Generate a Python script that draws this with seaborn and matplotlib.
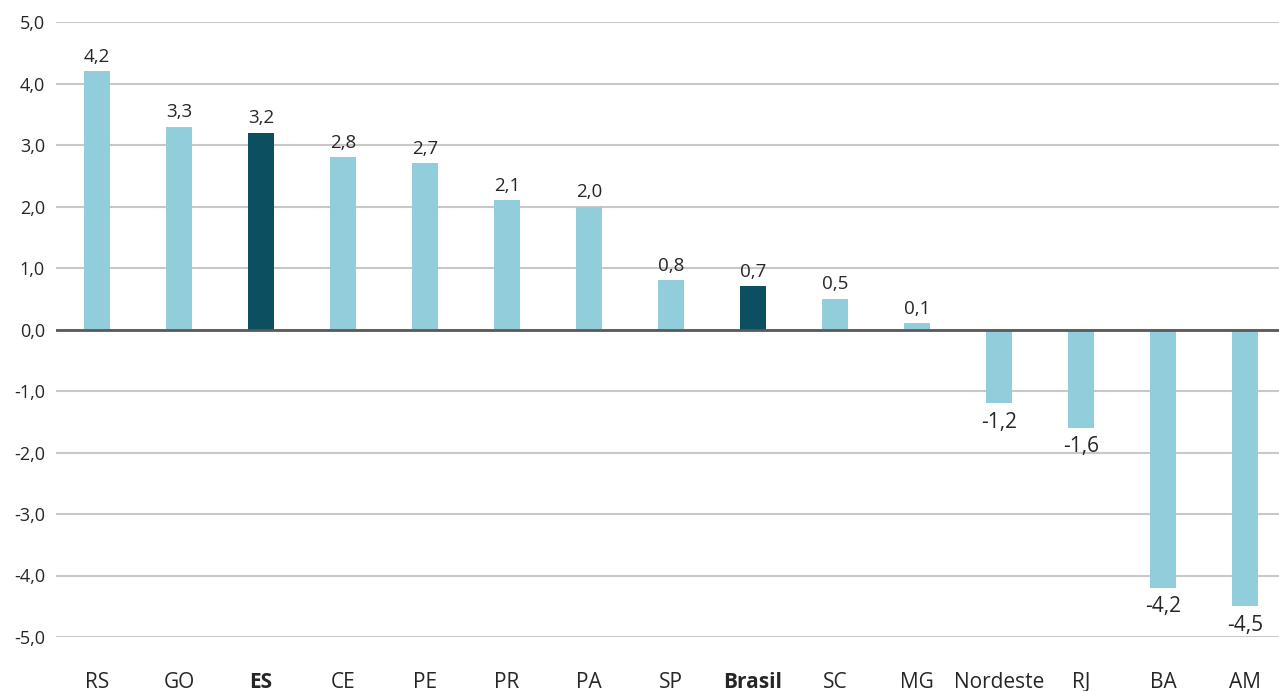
import matplotlib
matplotlib.use("Agg")
import matplotlib.pyplot as plt
import seaborn as sns
import pandas as pd

categories = ["RS", "GO", "ES", "CE", "PE", "PR", "PA", "SP", "Brasil",
              "SC", "MG", "Nordeste", "RJ", "BA", "AM"]
values = [4.2, 3.3, 3.2, 2.8, 2.7, 2.1, 2.0, 0.8, 0.7,
          0.5, 0.1, -1.2, -1.6, -4.2, -4.5]
highlighted = ["ES", "Brasil"]
y_ticks = [5, 4, 3, 2, 1, 0, -1, -2, -3, -4, -5]

LIGHT = "#92CDDC"
DARK = "#0B4F60"
TEXT = "#262626"

sns.set_theme(style="white")
plt.rcParams["font.family"] = ["Open Sans", "DejaVu Sans"]

df = pd.DataFrame({"uf": categories, "var": values})
palette = {c: (DARK if c in highlighted else LIGHT) for c in categories}

fig = plt.figure(figsize=(12.79, 6.91), dpi=100)
ax = fig.add_axes([56 / 1279, 54 / 691, 1230 / 1279, 615 / 691])

sns.barplot(data=df, x="uf", y="var", hue="uf", palette=palette,
            width=0.32, legend=False, ax=ax, saturation=1, zorder=3,
            linewidth=0)

ax.set_ylim(-5, 5)
ax.set_xlim(-0.5, len(categories) - 0.5)
ax.set_yticks(y_ticks)
ax.set_yticklabels([f"{t:.1f}".replace(".", ",") for t in y_ticks])
ax.yaxis.grid(True, color="#C8C8C8", linewidth=1.5, zorder=0)
ax.set_axisbelow(True)
ax.axhline(0, color="#595959", linewidth=2, zorder=4)
for s in ax.spines.values():
    s.set_visible(False)
ax.set_xlabel("")
ax.set_ylabel("")
ax.tick_params(axis="y", length=0, pad=8, labelsize=13, labelcolor=TEXT)
ax.tick_params(axis="x", length=0, pad=25, labelsize=15, labelcolor=TEXT)
for lbl in ax.get_xticklabels():
    if lbl.get_text() in highlighted:
        lbl.set_fontweight("bold")

for i, v in enumerate(values):
    txt = f"{v:.1f}".replace(".", ",")
    if v >= 0:
        ax.annotate(txt, (i, v), xytext=(0, 4), textcoords="offset points",
                    ha="center", va="bottom", fontsize=13.5, color=TEXT)
    else:
        ax.annotate(txt, (i, v), xytext=(0, -6), textcoords="offset points",
                    ha="center", va="top", fontsize=15, color=TEXT)

fig.savefig("out.png", dpi=100)
